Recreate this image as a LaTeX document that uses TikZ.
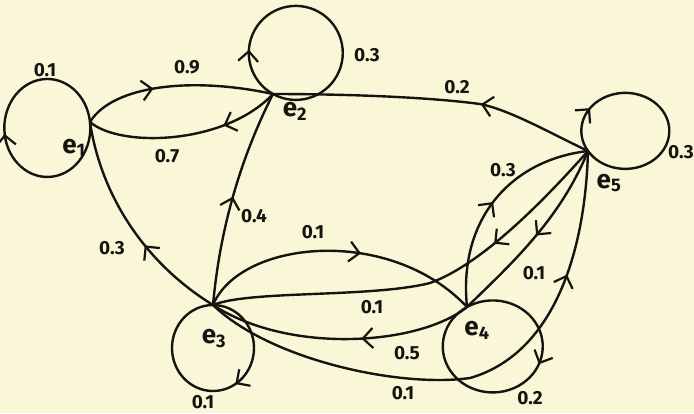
\documentclass[tikz,border=0pt]{standalone}
\usepackage{fontspec}
\setsansfont{Fira Sans}
\usetikzlibrary{arrows.meta,decorations.markings}
\definecolor{paper}{RGB}{250,247,216}
\definecolor{ink}{RGB}{22,20,16}
\tikzset{
  edge/.style={draw=ink, line width=2.4pt, line cap=round, line join=round},
  mid/.style={postaction={decorate}, decoration={markings, mark=at position #1 with {\arrow[ink]{Straight Barb[length=10pt,width=20pt,line width=2.2pt]}}}},
  lbl/.style={font=\sffamily\bfseries\fontsize{19}{21}\selectfont, text=ink, inner sep=0pt},
  st/.style={font=\sffamily\bfseries\fontsize{26}{28}\selectfont, text=ink, inner sep=0pt},
}
\newcommand{\stname}[1]{e\textsubscript{#1}}
\begin{document}
\begin{tikzpicture}[x=1pt,y=-1pt]
\fill[paper] (0,0) rectangle (694,413);
\useasboundingbox (0,0) rectangle (694,413);

\coordinate (e1) at (90,122);
\coordinate (e2) at (273,94);
\coordinate (e3) at (213,305);
\coordinate (e4) at (467,307);
\coordinate (e5) at (588,151);

% self loops
\draw[edge,mid=0.5]  (e1) arc[start angle=-7, end angle=353, x radius=43, y radius=49];
\draw[edge,mid=0.18] (e2) arc[start angle=119, end angle=479, x radius=47, y radius=47];
\draw[edge,mid=0.18] (e5) arc[start angle=148, end angle=508, x radius=44, y radius=38];
\draw[edge,mid=0.41] (e3) arc[start angle=-90, end angle=270, x radius=41, y radius=43];
\draw[edge,mid=0.40] (e4) arc[start angle=-121, end angle=239, x radius=50, y radius=46];

% edges
\draw[edge,mid=0.38] (e1) .. controls (112,86) and (190,76) .. (e2);
\draw[edge,mid=0.3]  (e2) .. controls (225,145) and (120,148) .. (e1);
\draw[edge,mid=0.36] (e5) .. controls (550,133) and (510,110) .. (480,104) .. controls (420,96) and (330,94) .. (e2);
\draw[edge,mid=0.4]  (e3) .. controls (140,260) and (100,190) .. (e1);
\draw[edge,mid=0.5]  (e3) .. controls (218,250) and (232,175) .. (e2);
\draw[edge,mid=0.58] (e3) .. controls (240,240) and (390,225) .. (e4);
\draw[edge,mid=0.31] (e5) .. controls (540,205) and (480,265) .. (430,283) .. controls (370,298) and (250,290) .. (e3);
\draw[edge,mid=0.42] (e4) .. controls (420,345) and (290,355) .. (e3);
\draw[edge,mid=0.77] (e3) .. controls (270,360) and (400,388) .. (470,378) .. controls (550,355) and (585,260) .. (e5);
\draw[edge,mid=0.5]  (e4) .. controls (458,220) and (510,160) .. (e5);
\draw[edge,mid=0.5]  (e5) .. controls (560,220) and (510,265) .. (e4);

% state labels
\node[st] (n1) at (74,148) {\stname{1}};
\node[st] (n2) at (295,111) {\stname{2}};
\node[st] (n3) at (214,339) {\stname{3}};
\node[st] (n4) at (477,330) {\stname{4}};
\node[st] (n5) at (609,183) {\stname{5}};

% probability labels
\node[lbl] (l11) at (45,70) {0.1};
\node[lbl] (l12) at (187,67) {0.9};
\node[lbl] (l21) at (167,156) {0.7};
\node[lbl] (l22) at (367,55) {0.3};
\node[lbl] (l52) at (457,87) {0.2};
\node[lbl,anchor=east] (l55) at (694,152) {0.3};
\node[lbl] (l45) at (503,170) {0.3};
\node[lbl] (l31) at (112,248) {0.3};
\node[lbl] (l32) at (254,216) {0.4};
\node[lbl] (l34) at (313,232) {0.1};
\node[lbl] (l53) at (372,307) {0.1};
\node[lbl] (l54) at (534,273) {0.1};
\node[lbl] (l43) at (407,353) {0.5};
\node[lbl] (l35) at (403,393) {0.1};
\node[lbl] (l44) at (530,398) {0.2};
\node[lbl] (l33) at (203,402) {0.1};
\end{tikzpicture}
\end{document}
